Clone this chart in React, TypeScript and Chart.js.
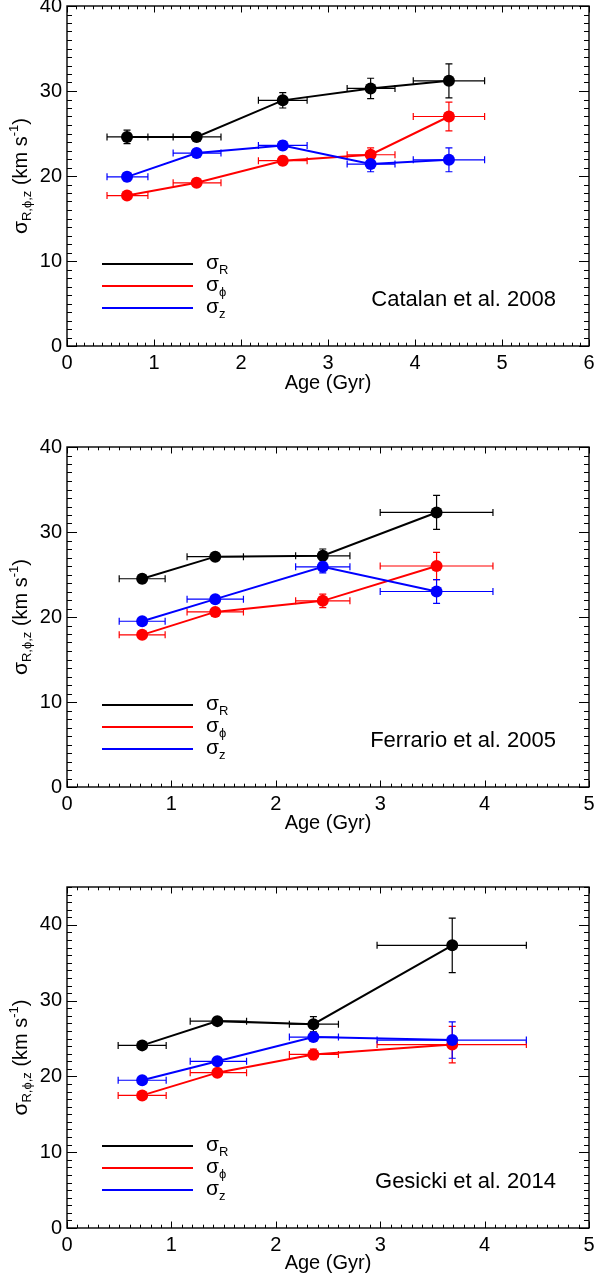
import React, { useEffect, useRef } from "react";
import { Chart, registerables } from "chart.js";

Chart.register(...registerables);

const FONT_FAMILY = '"Liberation Sans", Arial, Helvetica, sans-serif';

// ---- shared labels ----
const seriesSymbol = "σ";
const seriesSubscripts = ["R", "ϕ", "z"];
const seriesColors = ["#000000", "#ff0000", "#0000ff"];
const xAxisTitle = "Age (Gyr)";
const yTitleMain = "σ";
const yTitleSub = "R,ϕ,z";
const yTitleUnit = " (km s";
const yTitleSup = "-1";
const yTitleEnd = ")";

// ---- Panel 1: Catalan et al. 2008 ----
const catalanLabel = "Catalan et al. 2008";
const catalanAge = [0.69, 1.49, 2.48, 3.49, 4.39];
const catalanAgeLow = [0.46, 1.22, 2.2, 3.22, 3.98];
const catalanAgeHigh = [0.93, 1.77, 2.76, 3.77, 4.8];
const catalanSigmaR = [24.6, 24.6, 28.9, 30.3, 31.2];
const catalanSigmaRErr = [0.8, 0.5, 0.9, 1.2, 2.0];
const catalanSigmaPhi = [17.7, 19.2, 21.8, 22.5, 27.0];
const catalanSigmaPhiErr = [0.4, 0.4, 0.5, 0.8, 1.7];
const catalanSigmaZ = [19.9, 22.7, 23.6, 21.4, 21.9];
const catalanSigmaZErr = [0.5, 0.4, 0.5, 0.9, 1.4];

// ---- Panel 2: Ferrario et al. 2005 ----
const ferrarioLabel = "Ferrario et al. 2005";
const ferrarioAge = [0.72, 1.42, 2.45, 3.54];
const ferrarioAgeLow = [0.5, 1.15, 2.19, 3.0];
const ferrarioAgeHigh = [0.94, 1.69, 2.71, 4.08];
const ferrarioSigmaR = [24.5, 27.1, 27.2, 32.3];
const ferrarioSigmaRErr = [0.5, 0.3, 0.8, 2.0];
const ferrarioSigmaPhi = [17.9, 20.6, 21.9, 26.0];
const ferrarioSigmaPhiErr = [0.3, 0.3, 0.8, 1.6];
const ferrarioSigmaZ = [19.5, 22.1, 25.9, 23.0];
const ferrarioSigmaZErr = [0.3, 0.3, 0.7, 1.4];

// ---- Panel 3: Gesicki et al. 2014 ----
const gesickiLabel = "Gesicki et al. 2014";
const gesickiAge = [0.72, 1.44, 2.36, 3.69];
const gesickiAgeLow = [0.49, 1.18, 2.13, 2.97];
const gesickiAgeHigh = [0.95, 1.72, 2.6, 4.4];
const gesickiSigmaR = [24.1, 27.3, 26.9, 37.3];
const gesickiSigmaRErr = [0.4, 0.3, 1.0, 3.6];
const gesickiSigmaPhi = [17.5, 20.5, 22.9, 24.2];
const gesickiSigmaPhiErr = [0.3, 0.4, 0.7, 2.4];
const gesickiSigmaZ = [19.5, 22.0, 25.2, 24.8];
const gesickiSigmaZErr = [0.3, 0.3, 0.5, 2.4];

type PanelData = {
  label: string;
  age: number[];
  ageLow: number[];
  ageHigh: number[];
  sigma: number[][];
  sigmaErr: number[][];
  xMax: number;
  yMax: number;
};

const panels: PanelData[] = [
  {
    label: catalanLabel,
    age: catalanAge,
    ageLow: catalanAgeLow,
    ageHigh: catalanAgeHigh,
    sigma: [catalanSigmaR, catalanSigmaPhi, catalanSigmaZ],
    sigmaErr: [catalanSigmaRErr, catalanSigmaPhiErr, catalanSigmaZErr],
    xMax: 6,
    yMax: 40,
  },
  {
    label: ferrarioLabel,
    age: ferrarioAge,
    ageLow: ferrarioAgeLow,
    ageHigh: ferrarioAgeHigh,
    sigma: [ferrarioSigmaR, ferrarioSigmaPhi, ferrarioSigmaZ],
    sigmaErr: [ferrarioSigmaRErr, ferrarioSigmaPhiErr, ferrarioSigmaZErr],
    xMax: 5,
    yMax: 40,
  },
  {
    label: gesickiLabel,
    age: gesickiAge,
    ageLow: gesickiAgeLow,
    ageHigh: gesickiAgeHigh,
    sigma: [gesickiSigmaR, gesickiSigmaPhi, gesickiSigmaZ],
    sigmaErr: [gesickiSigmaRErr, gesickiSigmaPhiErr, gesickiSigmaZErr],
    xMax: 5,
    yMax: 45,
  },
];

// layout: canvas top, canvas height, plot top (within canvas), plot bottom (within canvas)
const layouts = [
  { top: 0, height: 400, plotTop: 6, plotBottom: 346 },
  { top: 400, height: 440, plotTop: 47, plotBottom: 387 },
  { top: 840, height: 440, plotTop: 47, plotBottom: 388 },
];

type Part = { t: string; size: number; dy: number };

function partsWidth(ctx: CanvasRenderingContext2D, parts: Part[]) {
  let w = 0;
  for (const p of parts) {
    ctx.font = `${p.size}px ${FONT_FAMILY}`;
    w += ctx.measureText(p.t).width;
  }
  return w;
}

function drawParts(ctx: CanvasRenderingContext2D, parts: Part[], x: number, y: number) {
  let cx = x;
  for (const p of parts) {
    ctx.font = `${p.size}px ${FONT_FAMILY}`;
    ctx.fillText(p.t, cx, y + p.dy);
    cx += ctx.measureText(p.t).width;
  }
}

const decorPlugin = {
  id: "decor",
  beforeDatasetsDraw(chart: any) {
    const { ctx } = chart;
    const xs = chart.scales.x;
    const ys = chart.scales.y;
    chart.data.datasets.forEach((ds: any) => {
      ctx.save();
      ctx.strokeStyle = ds.borderColor;
      ctx.lineWidth = 1.2;
      ds.data.forEach((p: any, i: number) => {
        const px = xs.getPixelForValue(p.x);
        const py = ys.getPixelForValue(p.y);
        const x1 = xs.getPixelForValue(ds.xLow[i]);
        const x2 = xs.getPixelForValue(ds.xHigh[i]);
        const y1 = ys.getPixelForValue(p.y - ds.yErr[i]);
        const y2 = ys.getPixelForValue(p.y + ds.yErr[i]);
        const c = 3.5;
        ctx.beginPath();
        ctx.moveTo(x1, py);
        ctx.lineTo(x2, py);
        ctx.moveTo(x1, py - c);
        ctx.lineTo(x1, py + c);
        ctx.moveTo(x2, py - c);
        ctx.lineTo(x2, py + c);
        ctx.moveTo(px, y1);
        ctx.lineTo(px, y2);
        ctx.moveTo(px - c, y1);
        ctx.lineTo(px + c, y1);
        ctx.moveTo(px - c, y2);
        ctx.lineTo(px + c, y2);
        ctx.stroke();
      });
      ctx.restore();
    });
  },
  afterDraw(chart: any, _args: any, opts: any) {
    const { ctx, chartArea } = chart;
    const xs = chart.scales.x;
    const ys = chart.scales.y;
    const { left, right, top, bottom } = chartArea;
    ctx.save();
    ctx.strokeStyle = "#000";
    ctx.fillStyle = "#000";
    // frame
    ctx.lineWidth = 1.4;
    ctx.strokeRect(left, top, right - left, bottom - top);
    // ticks
    ctx.lineWidth = 1;
    ctx.beginPath();
    const xMax = xs.max;
    for (let k = 0; k <= Math.round(xMax * 10); k++) {
      const v = k / 10;
      const px = Math.round(xs.getPixelForValue(v)) + 0.5;
      const len = k % 10 === 0 ? 6.5 : 3.3;
      ctx.moveTo(px, bottom);
      ctx.lineTo(px, bottom - len);
      ctx.moveTo(px, top);
      ctx.lineTo(px, top + len);
    }
    const yMax = ys.max;
    for (let k = 0; k <= yMax; k++) {
      const py = Math.round(ys.getPixelForValue(k)) + 0.5;
      const len = k % 10 === 0 ? 10 : 5;
      ctx.moveTo(left, py);
      ctx.lineTo(left + len, py);
      ctx.moveTo(right, py);
      ctx.lineTo(right - len, py);
    }
    ctx.stroke();

    // legend
    ctx.textBaseline = "middle";
    ctx.textAlign = "left";
    chart.data.datasets.forEach((ds: any, i: number) => {
      const y = bottom - 82 + i * 22;
      ctx.strokeStyle = ds.borderColor;
      ctx.lineWidth = 2.2;
      ctx.beginPath();
      ctx.moveTo(102, y);
      ctx.lineTo(193, y);
      ctx.stroke();
      ctx.fillStyle = "#000";
      drawParts(
        ctx,
        [
          { t: seriesSymbol, size: 21, dy: 0 },
          { t: ds.subscript, size: 13, dy: 7 },
        ],
        206,
        y - 1
      );
    });

    // annotation
    ctx.fillStyle = "#000";
    ctx.font = `22px ${FONT_FAMILY}`;
    ctx.textAlign = "right";
    ctx.textBaseline = "middle";
    ctx.fillText(opts.annotation, 556, bottom - 46);

    // y-axis title (rotated, rich text)
    const parts: Part[] = [
      { t: yTitleMain, size: 21, dy: 0 },
      { t: yTitleSub, size: 13, dy: 6 },
      { t: yTitleUnit, size: 20, dy: 0 },
      { t: yTitleSup, size: 13, dy: -7 },
      { t: yTitleEnd, size: 20, dy: 0 },
    ];
    ctx.textAlign = "left";
    ctx.save();
    ctx.translate(21, (top + bottom) / 2);
    ctx.rotate(-Math.PI / 2);
    const w = partsWidth(ctx, parts);
    drawParts(ctx, parts, -w / 2, 0);
    ctx.restore();
    ctx.restore();
  },
};

function Panel({ data, layout }: { data: PanelData; layout: typeof layouts[number] }) {
  const ref = useRef<HTMLCanvasElement | null>(null);
  useEffect(() => {
    if (!ref.current) return;
    const datasets = data.sigma.map((vals, si) => ({
      label: seriesSymbol + seriesSubscripts[si],
      subscript: seriesSubscripts[si],
      data: data.age.map((a, i) => ({ x: a, y: vals[i] })),
      xLow: data.ageLow,
      xHigh: data.ageHigh,
      yErr: data.sigmaErr[si],
      borderColor: seriesColors[si],
      backgroundColor: seriesColors[si],
      pointBackgroundColor: seriesColors[si],
      pointBorderWidth: 0,
      pointRadius: 6,
      pointHoverRadius: 6,
      borderWidth: 2,
      showLine: true,
      tension: 0,
      order: 2 - si,
    }));
    const xAxisHeight = layout.height - layout.plotBottom;
    const chart = new Chart(ref.current, {
      type: "scatter",
      data: { datasets } as any,
      plugins: [decorPlugin],
      options: {
        animation: false,
        responsive: false,
        devicePixelRatio: 1,
        events: [],
        layout: { padding: { top: layout.plotTop, right: 7, left: 0, bottom: 0 } },
        plugins: {
          legend: { display: false },
          tooltip: { enabled: false },
          decor: { annotation: data.label },
        } as any,
        scales: {
          x: {
            type: "linear",
            min: 0,
            max: data.xMax,
            grid: { display: false, drawTicks: false },
            border: { display: false },
            ticks: {
              stepSize: 1,
              padding: 5,
              color: "#000",
              maxRotation: 0,
              font: { family: FONT_FAMILY, size: 20 },
            },
            title: {
              display: true,
              text: xAxisTitle,
              color: "#000",
              padding: { top: 0, bottom: 5 },
              font: { family: FONT_FAMILY, size: 20 },
            },
            afterFit(scale: any) {
              scale.height = xAxisHeight;
              scale.paddingLeft = 0;
              scale.paddingRight = 0;
            },
          },
          y: {
            type: "linear",
            min: 0,
            max: data.yMax,
            grid: { display: false, drawTicks: false },
            border: { display: false },
            ticks: {
              stepSize: 10,
              padding: 5,
              color: "#000",
              includeBounds: false,
              font: { family: FONT_FAMILY, size: 20 },
            },
            afterFit(scale: any) {
              scale.width = 67;
              scale.paddingTop = 0;
              scale.paddingBottom = 0;
            },
          },
        },
      } as any,
    });
    return () => chart.destroy();
  }, [data, layout]);
  return (
    <canvas
      ref={ref}
      width={596}
      height={layout.height}
      style={{ position: "absolute", left: 0, top: layout.top, width: 596, height: layout.height, display: "block" }}
    />
  );
}

export default function App() {
  return (
    <div style={{ position: "absolute", left: 0, top: 0, width: 596, height: 1280, background: "#fff" }}>
      {panels.map((p, i) => (
        <Panel key={i} data={p} layout={layouts[i]} />
      ))}
    </div>
  );
}
